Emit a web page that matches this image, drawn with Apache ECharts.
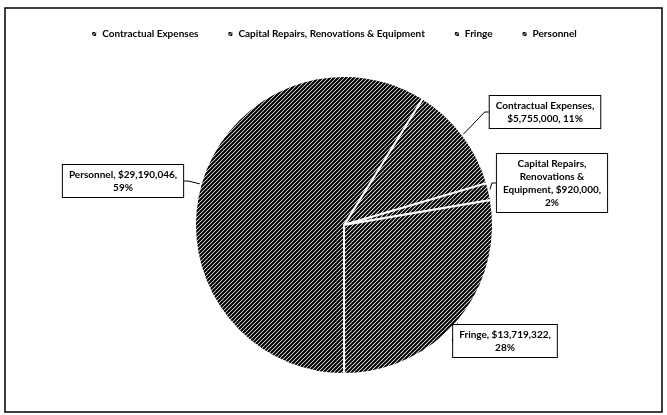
<!DOCTYPE html>
<html><head><meta charset="utf-8">
<script src="https://cdn.jsdelivr.net/npm/echarts@6/dist/echarts.min.js"></script>
<style>html,body{margin:0;padding:0;background:#fff}#c{width:667px;height:415px}</style>
</head><body><div id="c"></div>
<script>
const categories = ['Contractual Expenses', 'Capital Repairs, Renovations & Equipment', 'Fringe', 'Personnel'];
const values = [5755000, 920000, 13719322, 29190046];
const percentLabels = ['11%', '2%', '28%', '59%'];

function hatch(step, lw) {
  const c = document.createElement('canvas');
  c.width = step; c.height = step;
  const g = c.getContext('2d');
  g.fillStyle = '#fff'; g.fillRect(0, 0, step, step);
  g.strokeStyle = '#000'; g.lineWidth = lw;
  g.beginPath();
  g.moveTo(-1, step + 1); g.lineTo(step + 1, -1);
  g.moveTo(-1, 1); g.lineTo(1, -1);
  g.moveTo(step - 1, step + 1); g.lineTo(step + 1, step - 1);
  g.stroke();
  return { image: c, repeat: 'repeat' };
}
const patterns = [hatch(4, 2), hatch(4, 2), hatch(4, 2), hatch(4, 2.1)];

const labelPos = [[545, 112], [552, 183], [505, 341], [123, 181]];

const chart = echarts.init(document.getElementById('c'));
chart.setOption({
  backgroundColor: '#fff',
  animation: false,
  graphic: [{ type: 'rect', shape: { x: 5, y: 8, width: 657, height: 404 }, style: { fill: 'none', stroke: '#000', lineWidth: 1.5 } }],
  legend: {
    top: 24, left: 'center', itemWidth: 6, itemHeight: 6, itemGap: 28, icon: 'rect',
    textStyle: { fontFamily: 'Lato', fontWeight: 'bold', fontSize: 10, color: '#000' },
    data: categories
  },
  series: [{
    type: 'pie', center: [344, 225], radius: 149, startAngle: 58.1, clockwise: true,
    data: categories.map((n, i) => ({ name: n, value: values[i], itemStyle: { color: patterns[i] } })),
    itemStyle: { borderColor: '#fff', borderWidth: 2 },
    label: {
      show: true, position: 'outside', fontFamily: 'Lato', fontWeight: 'bold', fontSize: 10, color: '#000',
      lineHeight: 13, backgroundColor: '#fff', borderColor: '#000', borderWidth: 1, padding: [3, 6],
      formatter: function (p) {
        const i = p.dataIndex;
        const money = '$' + values[i].toLocaleString('en-US');
        if (i === 1) return 'Capital Repairs,\nRenovations &\nEquipment, ' + money + ',\n' + percentLabels[i];
        if (i === 0) return p.name + ',\n' + money + ', ' + percentLabels[i];
        return p.name + ', ' + money + ',\n' + percentLabels[i];
      }
    },
    labelLine: { show: true, length: 4, length2: 4, lineStyle: { color: '#000', width: 1 } },
    labelLayout: function (p) {
      const pos = labelPos[p.dataIndex];
      return { x: pos[0], y: pos[1], align: 'center', verticalAlign: 'middle' };
    }
  }]
});
</script></body></html>
